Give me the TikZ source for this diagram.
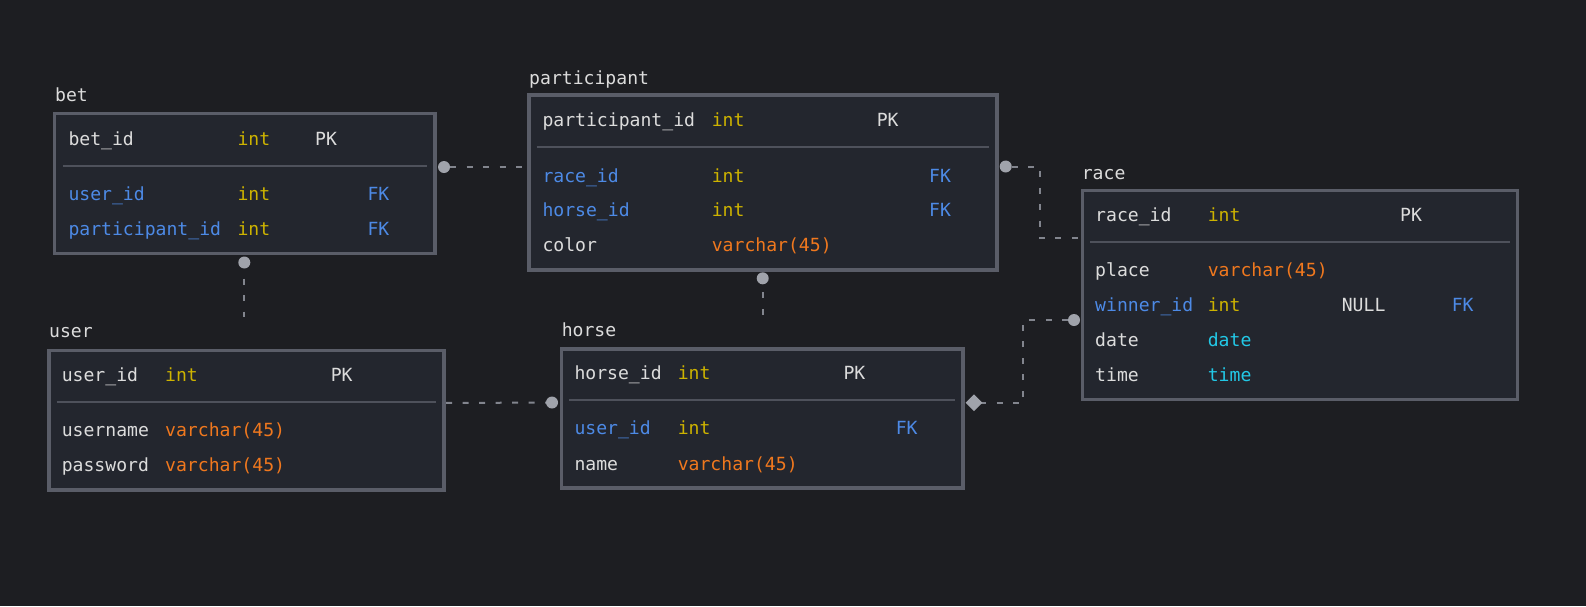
\documentclass[tikz,border=0pt]{standalone}
\usepackage{fontspec}
\setmonofont{DejaVu Sans Mono}
\usetikzlibrary{shapes.geometric}
\definecolor{bg}{HTML}{1D1E22}
\definecolor{boxfill}{HTML}{23262E}
\definecolor{boxline}{HTML}{5A5D68}
\definecolor{sepline}{HTML}{4E515B}
\definecolor{txtw}{HTML}{DCDCDC}
\definecolor{txty}{HTML}{CDB300}
\definecolor{txtb}{HTML}{4D8AE6}
\definecolor{txto}{HTML}{F0781E}
\definecolor{txtc}{HTML}{22C8E6}
\definecolor{connc}{HTML}{82858E}
\definecolor{dotc}{HTML}{A0A3AB}
\newcommand\cell[5]{\node[txt,text=#4] (#1) at (#2,#3) {#5};}
\begin{document}
\begin{tikzpicture}[x=1pt,y=-1pt,
  tbl/.style={rectangle,draw=boxline,fill=boxfill,line width=3.6pt,anchor=north west,inner sep=0pt,outer sep=0pt},
  sepr/.style={draw=sepline,line width=2pt},
  txt/.style={anchor=base west,inner sep=0pt,outer sep=0pt,font=\ttfamily\fontsize{18.1}{20}\selectfont,xshift=-1.5pt},
  conn/.style={draw=connc,line width=2pt,dash pattern=on 6pt off 10.5pt,dash phase=10.5pt},
  dotn/.style={circle,fill=dotc,minimum size=12pt,inner sep=0pt},
  diam/.style={diamond,fill=dotc,minimum width=17pt,minimum height=17pt,inner sep=0pt,aspect=1}]
\fill[bg] (0,0) rectangle (1586,606);
\useasboundingbox (0,0) rectangle (1586,606);

% ---------- connectors ----------
\coordinate (c1a) at (444,167);
\coordinate (c1b) at (528.7,167);
\draw[conn] (c1a) -- (c1b);
\coordinate (c2a) at (244.3,262.5);
\coordinate (c2b) at (244.3,316.5);
\draw[conn,dash phase=0.5pt] (c2a) -- (c2b);
\coordinate (c3a) at (762.7,278.3);
\coordinate (c3b) at (762.7,316);
\draw[conn,dash phase=2.5pt] (c3a) -- (c3b);
\coordinate (c4a) at (1005.7,166.5);
\coordinate (c4b) at (1082.3,238.3);
\draw[conn] (c4a) -- (1040,166.5) -- (1040,238.3) -- (c4b);
\coordinate (c5a) at (974,402.7);
\coordinate (c5b) at (1074,320);
\draw[conn] (c5a) -- (1023.3,402.7) -- (1023.3,320) -- (c5b);
\coordinate (c6a) at (443.7,403);
\coordinate (c6b) at (552,402.5);
\draw[conn,dash phase=14pt] (c6a) -- (c6b);

% ---------- tables ----------
\node[tbl,minimum width=380.7pt,minimum height=140pt] (bet) at (54.3,113.3) {};
\node[tbl,minimum width=468.3pt,minimum height=175pt] (participant) at (528.7,94.7) {};
\node[tbl,minimum width=435pt,minimum height=209pt] (race) at (1082.3,190.3) {};
\node[tbl,minimum width=395pt,minimum height=139.4pt] (user) at (48.7,350.3) {};
\node[tbl,minimum width=401.7pt,minimum height=139.3pt] (horse) at (561.3,348.7) {};

\draw[sepr] (62.7,166) -- (426.7,166);
\draw[sepr] (536.7,147.3) -- (989,147.3);
\draw[sepr] (1090,242.3) -- (1510,242.3);
\draw[sepr] (56.7,401.7) -- (435.7,401.7);
\draw[sepr] (569.3,400) -- (955,400);

% ---------- end markers ----------
\node[dotn] (m1) at (c1a) {};
\node[dotn] (m2) at (c2a) {};
\node[dotn] (m3) at (c3a) {};
\node[dotn] (m4) at (c4a) {};
\node[diam] (m5) at (c5a) {};
\node[dotn] (m5b) at (c5b) {};
\node[dotn] (m6) at (c6b) {};

% ---------- bet ----------
\cell{betL}{56.7}{101.7}{txtw}{bet}
\cell{betA}{70}{145}{txtw}{bet\_id}
\cell{betAt}{239}{145}{txty}{int}
\cell{betAk}{316.7}{145}{txtw}{PK}
\cell{betB}{70}{200}{txtb}{user\_id}
\cell{betBt}{239}{200}{txty}{int}
\cell{betBk}{369}{200}{txtb}{FK}
\cell{betC}{70}{235}{txtb}{participant\_id}
\cell{betCt}{239}{235}{txty}{int}
\cell{betCk}{369}{235}{txtb}{FK}

% ---------- participant ----------
\cell{parL}{530.7}{84}{txtw}{participant}
\cell{parA}{544}{126}{txtw}{participant\_id}
\cell{parAt}{713.3}{126}{txty}{int}
\cell{parAk}{878.3}{126}{txtw}{PK}
\cell{parB}{544}{182}{txtb}{race\_id}
\cell{parBt}{713.3}{182}{txty}{int}
\cell{parBk}{930.7}{182}{txtb}{FK}
\cell{parC}{544}{216.5}{txtb}{horse\_id}
\cell{parCt}{713.3}{216.5}{txty}{int}
\cell{parCk}{930.7}{216.5}{txtb}{FK}
\cell{parD}{544}{251}{txtw}{color}
\cell{parDt}{713.3}{251}{txto}{varchar(45)}

% ---------- race ----------
\cell{raceL}{1083.3}{179}{txtw}{race}
\cell{raceA}{1096.7}{221}{txtw}{race\_id}
\cell{raceAt}{1209.3}{221}{txty}{int}
\cell{raceAk}{1401.7}{221}{txtw}{PK}
\cell{raceB}{1096.7}{276.7}{txtw}{place}
\cell{raceBt}{1209.3}{276.7}{txto}{varchar(45)}
\cell{raceC}{1096.7}{311.7}{txtb}{winner\_id}
\cell{raceCt}{1209.3}{311.7}{txty}{int}
\cell{raceCn}{1343.3}{311.7}{txtw}{NULL}
\cell{raceCk}{1453.3}{311.7}{txtb}{FK}
\cell{raceD}{1096.7}{346.7}{txtw}{date}
\cell{raceDt}{1209.3}{346.7}{txtc}{date}
\cell{raceE}{1096.7}{381.7}{txtw}{time}
\cell{raceEt}{1209.3}{381.7}{txtc}{time}

% ---------- user ----------
\cell{userL}{50.7}{337.3}{txtw}{user}
\cell{userA}{63.3}{381}{txtw}{user\_id}
\cell{userAt}{166.7}{381}{txty}{int}
\cell{userAk}{332.3}{381}{txtw}{PK}
\cell{userB}{63.3}{436}{txtw}{username}
\cell{userBt}{166.7}{436}{txto}{varchar(45)}
\cell{userC}{63.3}{471.7}{txtw}{password}
\cell{userCt}{166.7}{471.7}{txto}{varchar(45)}

% ---------- horse ----------
\cell{horL}{563.3}{336.7}{txtw}{horse}
\cell{horA}{576}{379}{txtw}{horse\_id}
\cell{horAt}{679.3}{379}{txty}{int}
\cell{horAk}{845}{379}{txtw}{PK}
\cell{horB}{576}{434.3}{txtb}{user\_id}
\cell{horBt}{679.3}{434.3}{txty}{int}
\cell{horBk}{897.3}{434.3}{txtb}{FK}
\cell{horC}{576}{470}{txtw}{name}
\cell{horCt}{679.3}{470}{txto}{varchar(45)}
\end{tikzpicture}
\end{document}
